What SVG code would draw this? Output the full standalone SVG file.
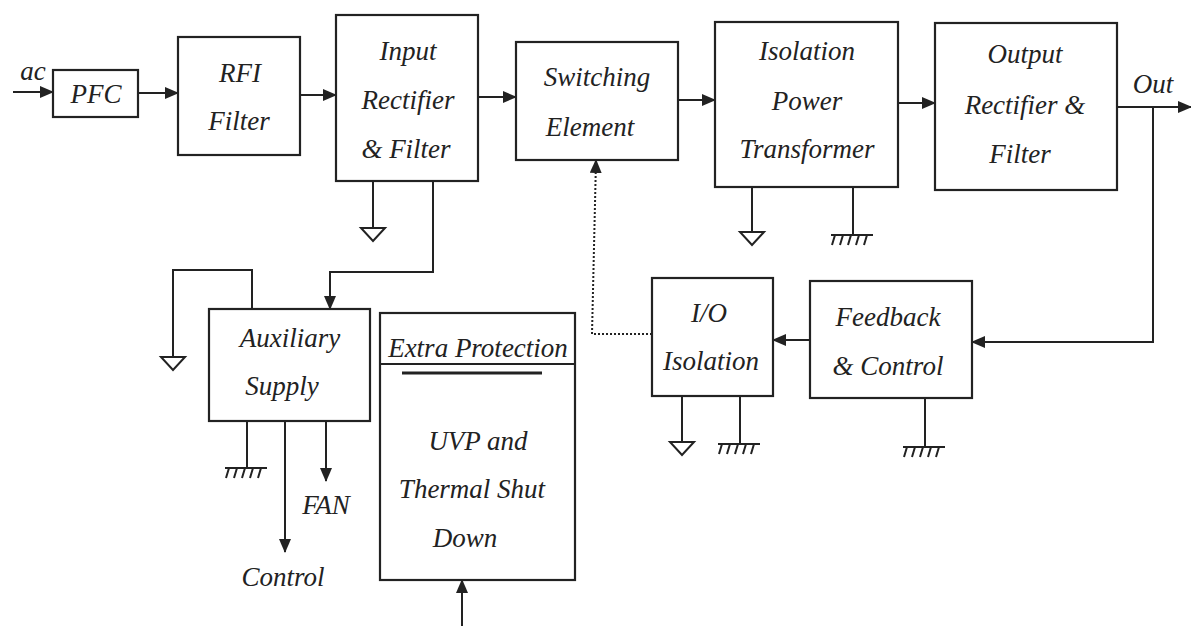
<svg xmlns="http://www.w3.org/2000/svg" width="1191" height="626" viewBox="0 0 1191 626">
<style>
.box{fill:none;stroke:#222;stroke-width:2.2}
.ln{fill:none;stroke:#222;stroke-width:2}
.dot{fill:none;stroke:#222;stroke-width:2;stroke-dasharray:2 2}
text{font-family:"Liberation Serif","Times New Roman",serif;font-style:italic;font-size:27px;fill:#222;text-anchor:middle}
.gnd{fill:none;stroke:#222;stroke-width:2}
</style>
<defs>
<marker id="ah" markerUnits="userSpaceOnUse" markerWidth="14" markerHeight="12" refX="13" refY="6" orient="auto">
<path d="M0,0 L14,6 L0,12 Z" fill="#222"/>
</marker>
<g id="sg"><path class="gnd" d="M-12,0 H12 L0,13 Z"/></g>
<g id="cg"><path class="gnd" d="M-20,0 H22 M-16,0 l-3,10 M-8,0 l-3,10 M0,0 l-3,10 M8,0 l-3,10 M16,0 l-3,10"/></g>
</defs>
<rect width="1191" height="626" fill="#fff"/>

<g id="connectors">
<line class="ln" x1="13" y1="92" x2="53" y2="92" marker-end="url(#ah)"/>
<line class="ln" x1="138" y1="93" x2="178" y2="93" marker-end="url(#ah)"/>
<line class="ln" x1="300" y1="95" x2="336" y2="95" marker-end="url(#ah)"/>
<line class="ln" x1="478" y1="97" x2="516" y2="97" marker-end="url(#ah)"/>
<line class="ln" x1="678" y1="100" x2="715" y2="100" marker-end="url(#ah)"/>
<line class="ln" x1="898" y1="103" x2="935" y2="103" marker-end="url(#ah)"/>
<line class="ln" x1="1117" y1="107" x2="1191" y2="107" marker-end="url(#ah)"/>
<polyline class="ln" points="1153,107 1153,342 972,342" marker-end="url(#ah)"/>
<line class="ln" x1="810" y1="340" x2="773" y2="340" marker-end="url(#ah)"/>
<polyline class="dot" points="652,334 592,334 596,160" marker-end="url(#ah)"/>
<polyline class="ln" points="433,181 433,272 330,272 330,309" marker-end="url(#ah)"/>
<polyline class="ln" points="252,309 252,270 173,270 173,357"/>
<line class="ln" x1="373" y1="181" x2="373" y2="228"/>
<line class="ln" x1="752" y1="187" x2="752" y2="232"/>
<line class="ln" x1="853" y1="187" x2="853" y2="235"/>
<line class="ln" x1="682" y1="396" x2="682" y2="442"/>
<line class="ln" x1="740" y1="396" x2="740" y2="444"/>
<line class="ln" x1="925" y1="398" x2="925" y2="447"/>
<line class="ln" x1="247" y1="421" x2="247" y2="468"/>
<line class="ln" x1="285" y1="421" x2="285" y2="552" marker-end="url(#ah)"/>
<line class="ln" x1="326" y1="421" x2="326" y2="481" marker-end="url(#ah)"/>
<line class="ln" x1="462" y1="626" x2="462" y2="580" marker-end="url(#ah)"/>
</g>

<g id="grounds">
<use href="#sg" x="373" y="228"/>
<use href="#sg" x="752" y="232"/>
<use href="#cg" x="851" y="235"/>
<use href="#sg" x="173" y="357"/>
<use href="#cg" x="245" y="468"/>
<use href="#sg" x="682" y="442"/>
<use href="#cg" x="738" y="444"/>
<use href="#cg" x="923" y="447"/>
</g>

<g id="labels">
<text x="33" y="80" font-size="25">ac</text>
<text x="1153" y="93" font-size="25">Out</text>
<text x="326" y="514" font-size="25">FAN</text>
<text x="283" y="586" font-size="25">Control</text>
</g>

<g id="pfc">
<rect class="box" x="53" y="70" width="85" height="47"/>
<text x="96" y="103">PFC</text>
</g>
<g id="rfi">
<rect class="box" x="178" y="37" width="122" height="118"/>
<text x="240" y="82">RFI</text>
<text x="239" y="130">Filter</text>
</g>
<g id="input-rectifier">
<rect class="box" x="336" y="15" width="142" height="166"/>
<text x="408" y="60">Input</text>
<text x="408" y="109">Rectifier</text>
<text x="406" y="158">&amp; Filter</text>
</g>
<g id="switching">
<rect class="box" x="516" y="42" width="162" height="118"/>
<text x="597" y="86">Switching</text>
<text x="590" y="136">Element</text>
</g>
<g id="transformer">
<rect class="box" x="715" y="22" width="183" height="165"/>
<text x="807" y="60">Isolation</text>
<text x="807" y="110">Power</text>
<text x="807" y="158">Transformer</text>
</g>
<g id="output-rectifier">
<rect class="box" x="935" y="23" width="182" height="167"/>
<text x="1025" y="63">Output</text>
<text x="1025" y="114">Rectifier &amp;</text>
<text x="1020" y="163">Filter</text>
</g>
<g id="io-isolation">
<rect class="box" x="652" y="278" width="121" height="118"/>
<text x="709" y="322">I/O</text>
<text x="711" y="370">Isolation</text>
</g>
<g id="feedback">
<rect class="box" x="810" y="281" width="162" height="117"/>
<text x="888" y="326">Feedback</text>
<text x="888" y="375">&amp; Control</text>
</g>
<g id="auxiliary">
<rect class="box" x="209" y="309" width="161" height="112"/>
<text x="290" y="347">Auxiliary</text>
<text x="282" y="395">Supply</text>
</g>
<g id="extra-protection">
<rect class="box" x="380" y="313" width="195" height="267"/>
<line class="ln" x1="380" y1="364" x2="575" y2="364"/>
<line x1="402" y1="373" x2="542" y2="373" stroke="#222" stroke-width="3"/>
<text x="478" y="357" font-size="26">Extra Protection</text>
<text x="478" y="450">UVP and</text>
<text x="472" y="498">Thermal Shut</text>
<text x="465" y="547">Down</text>
</g>
</svg>
